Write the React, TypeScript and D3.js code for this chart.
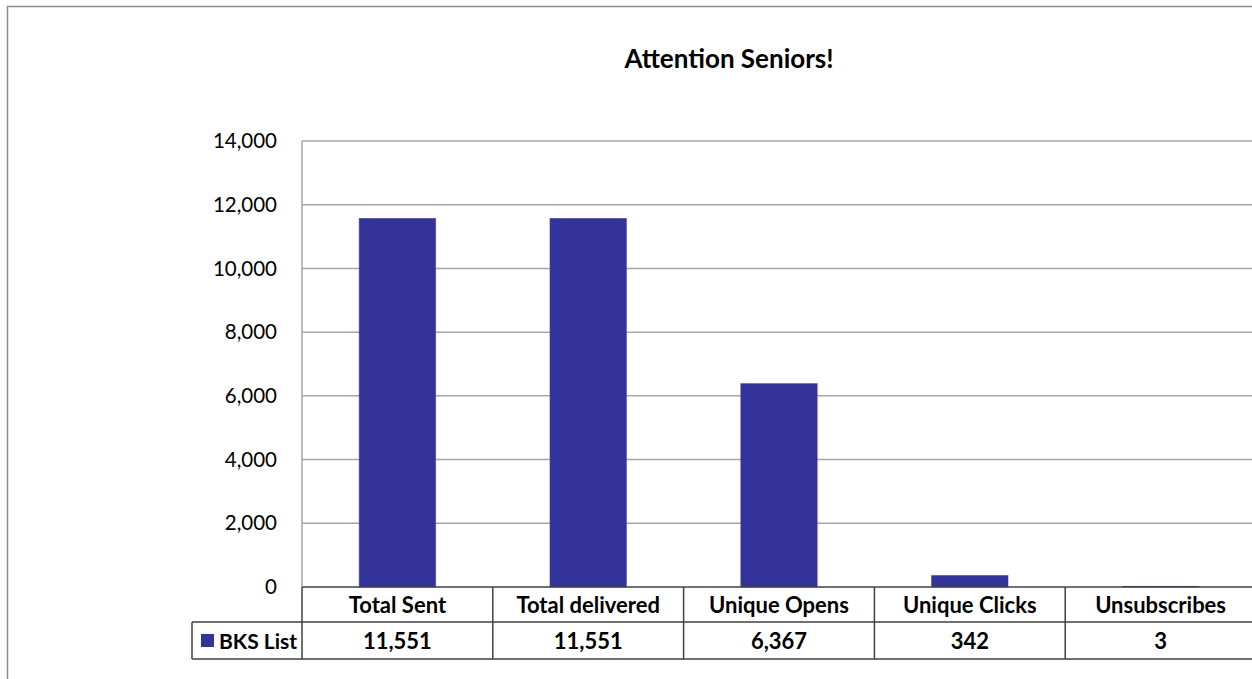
import React from 'react';
import * as d3 from 'd3';

// chart data
const categories = ['Total Sent', 'Total delivered', 'Unique Opens', 'Unique Clicks', 'Unsubscribes'];
const bksList = [11551, 11551, 6367, 342, 3];
const yTicks = [0, 2000, 4000, 6000, 8000, 10000, 12000, 14000];
const seriesName = 'BKS List';
const title = 'Attention Seniors!';

const App = () => {
    const width = 1252;
    const height = 679;
    const plotLeft = 302;
    const plotRight = 1256;
    const plotTop = 141;
    const plotBottom = 587;
    const row1Bottom = 622;
    const row2Bottom = 659;
    const legendLeft = 192;
    const font = 'Lato, "Open Sans", sans-serif';
    const fmt = d3.format(',');

    const x = d3.scaleBand()
        .domain(categories)
        .range([plotLeft, plotRight])
        .paddingInner(0)
        .paddingOuter(0);

    const y = d3.scaleLinear()
        .domain([0, 14000])
        .range([plotBottom, plotTop]);

    const barW = x.bandwidth() * 0.4;
    const gridColor = '#a6a6a6';
    const tableColor = '#404040';

    return (
        <svg width={width} height={height} style={{ position: 'absolute', left: 0, top: 0, background: '#fff' }}>
            {/* outer chart border */}
            <rect x={7.5} y={6.5} width={width + 20} height={height + 20} fill="#fff" stroke="#8c8c8c" strokeWidth={1.5} />

            <text x={729} y={68} textAnchor="middle" fontFamily={font} fontWeight="bold" fontSize={26} fill="#000">
                {title}
            </text>

            {/* gridlines and y labels */}
            {yTicks.map(t => (
                <g key={t}>
                    {t > 0 && (
                        <line x1={plotLeft} x2={plotRight} y1={y(t)} y2={y(t)} stroke={gridColor} strokeWidth={1.5} />
                    )}
                    <text x={277} y={y(t)} dy="0.35em" textAnchor="end" fontFamily={font} fontSize={20.5} fill="#000">
                        {fmt(t)}
                    </text>
                </g>
            ))}
            <line x1={plotLeft} x2={plotLeft} y1={plotTop} y2={plotBottom} stroke={gridColor} strokeWidth={1.5} />

            {/* bars */}
            {categories.map((c, i) => (
                <rect
                    key={c}
                    x={x(c)! + (x.bandwidth() - barW) / 2}
                    y={y(bksList[i]) - 0.5}
                    width={barW}
                    height={plotBottom - y(bksList[i]) + 0.5}
                    fill="#333399"
                    stroke="#333399"
                    strokeOpacity={0.6}
                    strokeWidth={1}
                />
            ))}

            {/* data table */}
            <g stroke={tableColor} strokeWidth={1.5}>
                <line x1={plotLeft} x2={plotRight} y1={plotBottom} y2={plotBottom} />
                <line x1={legendLeft} x2={plotRight} y1={row1Bottom} y2={row1Bottom} />
                <line x1={legendLeft} x2={plotRight} y1={row2Bottom} y2={row2Bottom} />
                <line x1={legendLeft} x2={legendLeft} y1={row1Bottom} y2={row2Bottom} />
                <line x1={plotLeft} x2={plotLeft} y1={plotBottom} y2={row2Bottom} />
                {categories.slice(1).map(c => (
                    <line key={c} x1={x(c)} x2={x(c)} y1={plotBottom} y2={row2Bottom} />
                ))}
            </g>
            {categories.map((c, i) => (
                <g key={c} fontFamily={font} fontWeight="bold" fontSize={22} fill="#000" textAnchor="middle">
                    <text x={x(c)! + x.bandwidth() / 2} y={(plotBottom + row1Bottom) / 2 + 1} dy="0.35em">{c}</text>
                    <text x={x(c)! + x.bandwidth() / 2} y={(row1Bottom + row2Bottom) / 2 + 1} dy="0.35em">{fmt(bksList[i])}</text>
                </g>
            ))}
            <rect x={201} y={634} width={13} height={13} fill="#333399" />
            <text x={219} y={(row1Bottom + row2Bottom) / 2 + 1} dy="0.35em" fontFamily={font} fontWeight="bold" fontSize={21} fill="#000">
                {seriesName}
            </text>
        </svg>
    );
};

export default App;
